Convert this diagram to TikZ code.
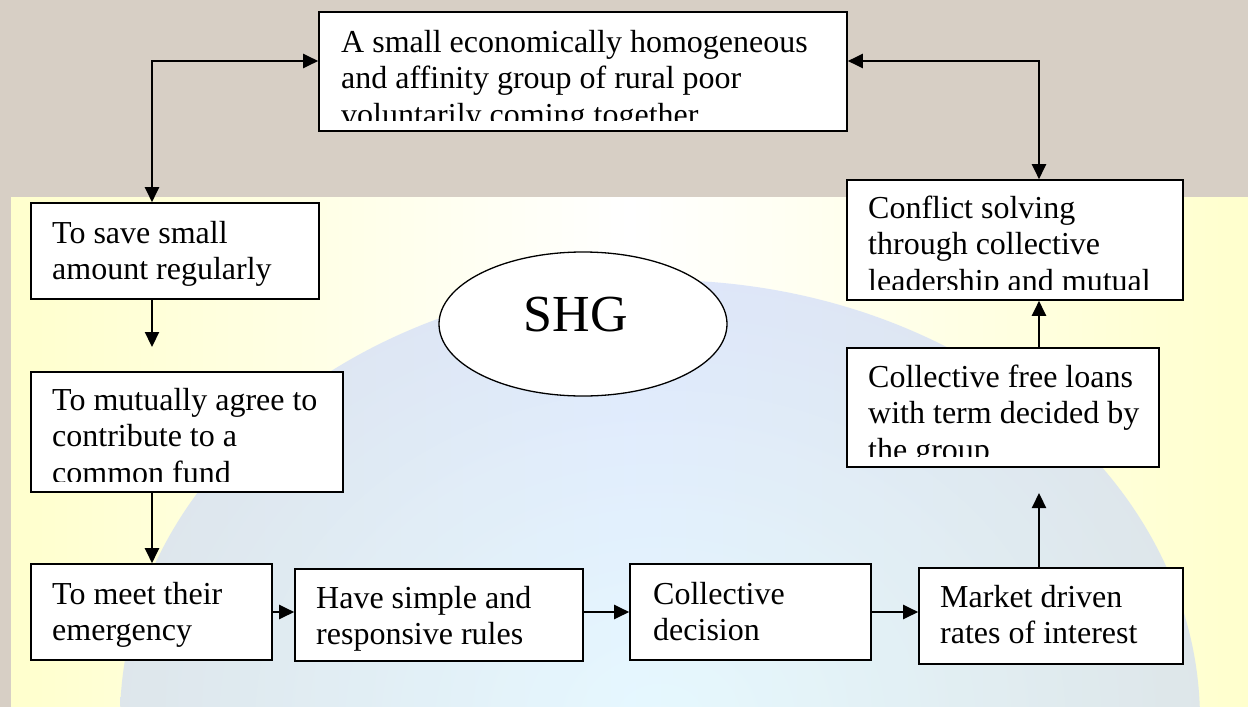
\documentclass[tikz,border=0pt]{standalone}
\usepackage{fontspec}
\setmainfont{Liberation Serif}
\usetikzlibrary{arrows.meta,shapes.geometric}
\definecolor{bggrey}{RGB}{215,207,197}
\definecolor{paleyellow}{RGB}{255,255,205}
\definecolor{globein}{RGB}{214,244,255}
\definecolor{globeout}{RGB}{200,214,250}
\tikzset{
  box/.style={draw=black, line width=1.6pt, fill=white, rectangle, inner sep=0pt},
  boxtext/.style={anchor=base west, align=left, inner sep=0pt, font=\fontsize{32}{36.8}\selectfont},
  arr/.style={line width=2.2pt, -{Triangle[length=15pt,width=14pt]}},
  both/.style={line width=2.2pt, {Triangle[length=15pt,width=14pt]}-{Triangle[length=15pt,width=14pt]}},
}
\begin{document}
\begin{tikzpicture}[x=1pt,y=-1pt]
% background
\fill[bggrey] (0,0) rectangle (1248,707);
\shade[left color=paleyellow, right color=paleyellow, middle color=white] (11,197) rectangle (1248,707);
\begin{scope}
  \clip (11,197) rectangle (1248,707);
  \shade[inner color=globein, outer color=globeout, opacity=0.6] (660,720) ellipse [x radius=540pt, y radius=440pt];
\end{scope}
\useasboundingbox (0,0) rectangle (1248,707);

% boxes
\node[box, minimum width=528pt, minimum height=119pt] (top) at (583,71.5) {};
\node[box, minimum width=288pt, minimum height=96pt] (save) at (175,251) {};
\node[box, minimum width=312pt, minimum height=120pt] (mutual) at (187,432) {};
\node[box, minimum width=241pt, minimum height=96pt] (meet) at (151.5,612) {};
\node[box, minimum width=288pt, minimum height=92pt] (have) at (439,615) {};
\node[box, minimum width=241pt, minimum height=96pt] (collective) at (750.5,612) {};
\node[box, minimum width=264pt, minimum height=96pt] (market) at (1051,616) {};
\node[box, minimum width=312pt, minimum height=119pt] (loans) at (1003,407.5) {};
\node[box, minimum width=336pt, minimum height=120pt] (conflict) at (1015,240) {};

% texts (base anchor = baseline of the last line), clipped like the text boxes
\begin{scope}
  \clip ([yshift=11pt]top.south west) rectangle (top.north east);
  \node[boxtext] (topt) at (341,125.6) {A small economically homogeneous\\and affinity group of rural poor\\voluntarily coming together};
\end{scope}
\begin{scope}
  \clip ([yshift=11pt]save.south west) rectangle (save.north east);
  \node[boxtext] (savet) at (52,279.8) {To save small\\amount regularly};
\end{scope}
\begin{scope}
  \clip ([yshift=11pt]mutual.south west) rectangle (mutual.north east);
  \node[boxtext] (mutualt) at (52,483.6) {To mutually agree to\\contribute to a\\common fund};
\end{scope}
\node[boxtext] (meett) at (52,640.8) {To meet their\\emergency};
\node[boxtext] (havet) at (316,644.8) {Have simple and\\responsive rules};
\node[boxtext] (collectivet) at (653,640.8) {Collective\\decision};
\node[boxtext] (markett) at (940,643.8) {Market driven\\rates of interest};
\begin{scope}
  \clip ([yshift=11pt]loans.south west) rectangle (loans.north east);
  \node[boxtext] (loanst) at (868,460.6) {Collective free loans\\with term decided by\\the group};
\end{scope}
\begin{scope}
  \clip ([yshift=11pt]conflict.south west) rectangle (conflict.north east);
  \node[boxtext] (conflictt) at (868,291.6) {Conflict solving\\through collective\\leadership and mutual};
\end{scope}

% SHG ellipse
\node[ellipse, draw=black, line width=1.3pt, fill=white, minimum width=288pt, minimum height=144pt, inner sep=0pt] (shg) at (583,324) {};
\node[anchor=base, inner sep=0pt, font=\fontsize{52}{60}\selectfont] (shgt) at (576,331) {SHG};

% connectors
\coordinate (cL) at (152,61);
\coordinate (cR) at (1039,61);
\coordinate (a2) at (152,347);
\coordinate (a8) at (1039,493);
\draw[both] (cL -| top.west) -- (cL) -- (cL |- save.north);
\draw[both] (cR -| top.east) -- (cR) -- (cR |- conflict.north);
\draw[arr] (a2 |- save.south) -- (a2);
\draw[arr] (cL |- mutual.south) -- (cL |- meet.north);
\draw[arr] (meet.east) -- (meet.east -| have.west);
\draw[arr] (meet.east -| have.east) -- (collective.west);
\draw[arr] (collective.east) -- (collective.east -| market.west);
\draw[arr] (cR |- market.north) -- (a8);
\draw[arr] (cR |- loans.north) -- (cR |- conflict.south);
\end{tikzpicture}
\end{document}
